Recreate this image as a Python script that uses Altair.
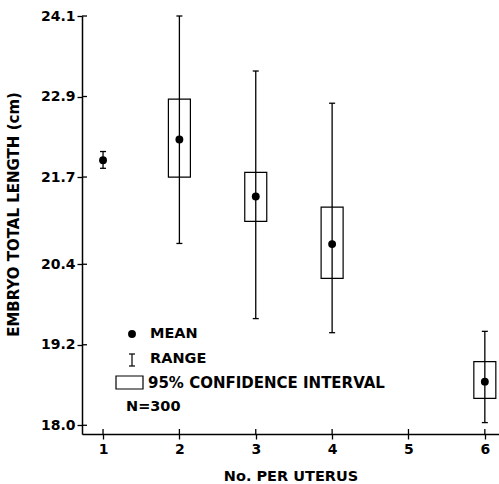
import altair as alt
import pandas as pd

# ---- data ----
n_per_uterus = [1, 2, 3, 4, 6]
mean_len = [21.95, 22.26, 21.41, 20.70, 18.65]
range_low = [21.83, 20.71, 19.59, 19.38, 18.04]
range_high = [22.08, 24.10, 23.28, 22.80, 19.40]
ci_low = [None, 21.70, 21.04, 20.19, 18.40]
ci_high = [None, 22.86, 21.77, 21.25, 18.95]

x_ticks = [1, 2, 3, 4, 5, 6]
y_ticks = [18.0, 19.2, 20.4, 21.7, 22.9, 24.1]
legend_labels = ["MEAN", "RANGE", "95% CONFIDENCE INTERVAL", "N=300"]

FONT = "DejaVu Sans"
W, H = 417, 418

df = pd.DataFrame({"n": n_per_uterus, "mean": mean_len, "lo": range_low,
                   "hi": range_high, "cilo": ci_low, "cihi": ci_high})
df_ci = df.dropna()

xs = alt.Scale(domain=[0.79, 6.12], nice=False, zero=False)
ys = alt.Scale(domain=[17.87, 24.1], nice=False, zero=False)

x_axis = alt.Axis(values=x_ticks, format="d", title="No. PER UTERUS", grid=False,
                  tickSize=5, tickColor="black", domainColor="black", domainWidth=1.5,
                  tickWidth=1.3, labelFontSize=14, labelFont=FONT, labelColor="black",
                  labelFontWeight="bold", labelPadding=3, titleFont=FONT, titleFontSize=14.5,
                  titleFontWeight="bold", titleColor="black", titlePadding=13)
y_axis = alt.Axis(values=y_ticks, format=".1f", title="EMBRYO TOTAL LENGTH (cm)", grid=False,
                  tickSize=5, tickColor="black", domainColor="black", domainWidth=1.5,
                  tickWidth=1.3, labelFontSize=14, labelFont=FONT, labelColor="black",
                  labelFontWeight="bold", labelPadding=2, titleFont=FONT, titleFontSize=15,
                  titleFontWeight="bold", titleColor="black", titlePadding=19, titleY=198)

base = alt.Chart(df)

one = pd.DataFrame({"k": [0]})
# white band along the top edge of the plot (hides a stray hairline)
top_mask = alt.Chart(one).mark_rule(color="white", strokeWidth=3).encode(
    x=alt.value(2), x2=alt.value(W + 5), y=alt.value(0))

boxes = alt.Chart(df_ci).mark_bar(width=22, fill="white", stroke="black", strokeWidth=1.2,
                                  clip=True).encode(
    x=alt.X("n:Q", scale=xs, axis=x_axis),
    y=alt.Y("cilo:Q", scale=ys, axis=y_axis),
    y2="cihi:Q")

ranges = base.mark_rule(color="black", strokeWidth=1.3).encode(
    x=alt.X("n:Q", scale=xs), y=alt.Y("lo:Q", scale=ys), y2="hi:Q")
cap_lo = base.mark_rule(color="black", strokeWidth=1.3, xOffset=-3, x2Offset=3).encode(
    x=alt.X("n:Q", scale=xs), x2="n:Q", y=alt.Y("lo:Q", scale=ys))
cap_hi = base.mark_rule(color="black", strokeWidth=1.3, xOffset=-3, x2Offset=3).encode(
    x=alt.X("n:Q", scale=xs), x2="n:Q", y=alt.Y("hi:Q", scale=ys))
means = base.mark_point(filled=True, color="black", size=62, opacity=1, shape="circle").encode(
    x=alt.X("n:Q", scale=xs), y=alt.Y("mean:Q", scale=ys))

# inward half of the crossing ticks
yt = alt.Chart(pd.DataFrame({"n": y_ticks})).mark_rule(color="black", strokeWidth=1.3).encode(
    y=alt.Y("n:Q", scale=ys), x=alt.value(0), x2=alt.value(5))
xt = alt.Chart(pd.DataFrame({"n": x_ticks})).mark_rule(color="black", strokeWidth=1.3).encode(
    x=alt.X("n:Q", scale=xs), y=alt.value(H), y2=alt.value(H - 5))

# ---- legend drawn inside the plot ----
leg_dot = alt.Chart(one).mark_point(filled=True, color="black", size=62, opacity=1).encode(
    x=alt.value(50), y=alt.value(318))
leg_I = alt.Chart(one).mark_rule(color="black", strokeWidth=1.2).encode(
    x=alt.value(50), y=alt.value(338), y2=alt.value(350))
leg_I1 = alt.Chart(one).mark_rule(color="black", strokeWidth=1.2).encode(
    x=alt.value(47), x2=alt.value(53), y=alt.value(338))
leg_I2 = alt.Chart(one).mark_rule(color="black", strokeWidth=1.2).encode(
    x=alt.value(47), x2=alt.value(53), y=alt.value(350))
leg_box = alt.Chart(one).mark_rect(fill="white", stroke="black", strokeWidth=1.2).encode(
    x=alt.value(34), x2=alt.value(61), y=alt.value(360), y2=alt.value(373))

def label(txt, x, y, size=14.5):
    return alt.Chart(pd.DataFrame({"l": [txt]})).mark_text(
        align="left", baseline="middle", font=FONT, fontSize=size, fontWeight="bold",
        color="black").encode(x=alt.value(x), y=alt.value(y), text="l:N")

legend = (leg_dot + leg_I + leg_I1 + leg_I2 + leg_box
          + label(legend_labels[0], 68, 318)
          + label(legend_labels[1], 68, 343)
          + label(legend_labels[2], 66, 367, 15)
          + label(legend_labels[3], 44, 391))

chart = alt.layer(boxes, top_mask, ranges, cap_lo, cap_hi, means, yt, xt, legend).properties(
    width=W, height=H,
    autosize=alt.AutoSizeParams(type="none"),
    padding={"left": 82, "top": 16, "right": 0, "bottom": 50},
).configure_view(stroke=None).configure_axis(grid=False).configure(background="white")

chart.save("out.html", embed_options={"renderer": "svg", "actions": False})
